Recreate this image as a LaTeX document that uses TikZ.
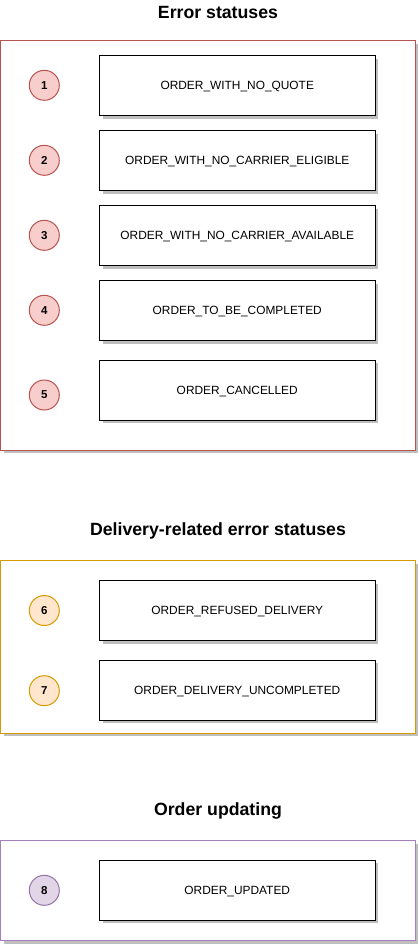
\documentclass[tikz,border=0pt]{standalone}
\usepackage{fontspec}
\setmainfont{Liberation Sans}
\usetikzlibrary{shadows}
\definecolor{redfill}{HTML}{F8CECC}
\definecolor{redline}{HTML}{B85450}
\definecolor{orfill}{HTML}{FFE6CC}
\definecolor{orline}{HTML}{D79B00}
\definecolor{pufill}{HTML}{E1D5E7}
\definecolor{puline}{HTML}{9673A6}
\definecolor{pubox}{HTML}{A680B8}
\begin{document}
\begin{tikzpicture}[x=1pt,y=-1pt,
  shd/.style={drop shadow={shadow xshift=3pt,shadow yshift=-3pt,opacity=.25,fill=black}},
  container/.style={draw, line width=1pt, fill=white, shd, minimum width=414.5pt, inner sep=0pt},
  statebox/.style={draw=black, line width=1pt, fill=white, shd, minimum width=275.5pt, minimum height=60pt, inner sep=0pt, text height=8.5pt, text depth=0pt, font=\fontsize{11.9}{14}\selectfont},
  numdot/.style={circle, line width=1pt, minimum size=30pt, inner sep=0pt, font=\bfseries\fontsize{11.5}{13}\selectfont},
  title/.style={font=\bfseries\fontsize{17.7}{21}\selectfont},
]
\useasboundingbox (0,0) rectangle (419,945);
% titles
\node[title] (t1) at (218,12) {Error statuses};
\node[title] (t2) at (218,531) {Delivery-related error statuses};
\node[title] (t3) at (218,811) {Order updating};
% containers
\node[container, draw=redline, minimum height=409.3pt] (c1) at (207.75,245.35) {};
\node[container, draw=orline, minimum height=172.6pt] (c2) at (207.75,647) {};
\node[container, draw=pubox, minimum height=100pt] (c3) at (207.75,890.7) {};
% boxes
\node[statebox] (b1) at (237.25,85.7) {ORDER\_WITH\_NO\_QUOTE};
\node[statebox] (b2) at (237.25,160.6) {ORDER\_WITH\_NO\_CARRIER\_ELIGIBLE};
\node[statebox] (b3) at (237.25,235.5) {ORDER\_WITH\_NO\_CARRIER\_AVAILABLE};
\node[statebox] (b4) at (237.25,310.5) {ORDER\_TO\_BE\_COMPLETED};
\node[statebox] (b5) at (237.25,390.3) {ORDER\_CANCELLED};
\node[statebox] (b6) at (237.25,610.5) {ORDER\_REFUSED\_DELIVERY};
\node[statebox] (b7) at (237.25,690.3) {ORDER\_DELIVERY\_UNCOMPLETED};
\node[statebox] (b8) at (237.25,890.3) {ORDER\_UPDATED};
% numbers
\node[numdot, draw=redline, fill=redfill] (n1) at (44.3,85.3) {1};
\node[numdot, draw=redline, fill=redfill] (n2) at (44.3,160.3) {2};
\node[numdot, draw=redline, fill=redfill] (n3) at (44.3,235.3) {3};
\node[numdot, draw=redline, fill=redfill] (n4) at (44.3,310.3) {4};
\node[numdot, draw=redline, fill=redfill] (n5) at (44.3,395) {5};
\node[numdot, draw=orline, fill=orfill] (n6) at (44.3,610.5) {6};
\node[numdot, draw=orline, fill=orfill] (n7) at (44.3,690.7) {7};
\node[numdot, draw=puline, fill=pufill] (n8) at (44.3,890.3) {8};
\end{tikzpicture}
\end{document}
